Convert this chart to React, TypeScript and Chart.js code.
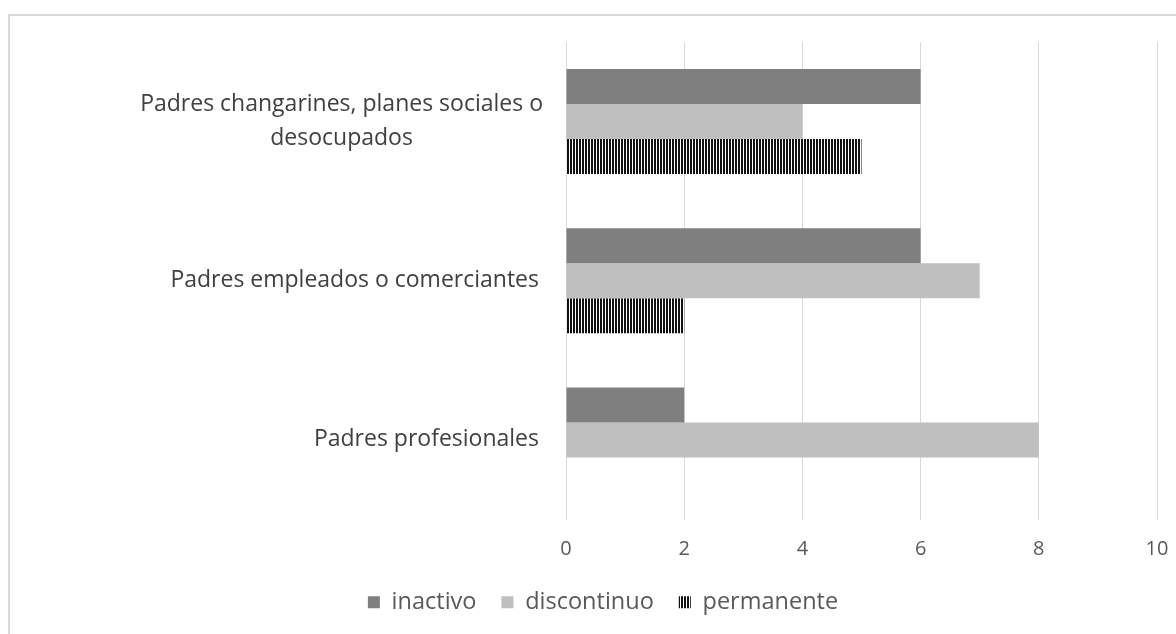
import React, { useEffect, useRef } from "react";
import { Chart, registerables } from "chart.js";
Chart.register(...registerables);

const categoryLines: string[][] = [
  ["Padres changarines, planes sociales o", "desocupados"],
  ["Padres empleados o comerciantes"],
  ["Padres profesionales"],
];
const categories = categoryLines.map((l) => l.join(" "));
const seriesNames = ["inactivo", "discontinuo", "permanente"];
const inactivo = [6, 6, 2];
const discontinuo = [4, 7, 8];
const permanente = [5, 2, 0];
const xTickValues = [0, 2, 4, 6, 8, 10];

const FONT = '"Open Sans", "DejaVu Sans", sans-serif';
const CAT_FS = 23;
const W = 1206;
const H = 660;

function makeStripes(): CanvasPattern | string {
  const c = document.createElement("canvas");
  c.width = 3;
  c.height = 3;
  const g = c.getContext("2d");
  if (!g) return "#000";
  g.fillStyle = "#ffffff";
  g.fillRect(0, 0, 3, 3);
  g.fillStyle = "#111111";
  g.fillRect(0, 0, 2, 3);
  const p = g.createPattern(c, "repeat");
  return p || "#000";
}

const framePlugin = {
  id: "frame",
  beforeDraw(chart: any) {
    const ctx = chart.ctx;
    ctx.save();
    ctx.fillStyle = "#ffffff";
    ctx.fillRect(0, 0, chart.width, chart.height);
    ctx.strokeStyle = "#d9d9d9";
    ctx.lineWidth = 2;
    ctx.strokeRect(9, 15, 1190, 2000);
    ctx.restore();
  },
};

const yLabelPlugin = {
  id: "yLabels",
  afterDraw(chart: any) {
    const ctx = chart.ctx;
    const y = chart.scales.y;
    ctx.save();
    ctx.font = `${CAT_FS}px ${FONT}`;
    ctx.fillStyle = "#404040";
    ctx.textAlign = "center";
    ctx.textBaseline = "middle";
    categoryLines.forEach((lines, i) => {
      const cy = y.getPixelForValue(i);
      const w = Math.max(...lines.map((l) => ctx.measureText(l).width));
      const right = chart.chartArea.left - (lines.length > 1 ? 23 : 27);
      const cx = right - w / 2;
      const lh = 34;
      lines.forEach((l, j) => ctx.fillText(l, cx, cy + (j - (lines.length - 1) / 2) * lh));
    });
    ctx.restore();
  },
};

export default function App() {
  const ref = useRef<HTMLCanvasElement | null>(null);
  useEffect(() => {
    if (!ref.current) return;
    const stripes = makeStripes();
    const chart = new Chart(ref.current, {
      type: "bar",
      data: {
        labels: categories,
        datasets: [
          { label: seriesNames[0], data: inactivo, backgroundColor: "#7f7f7f", borderWidth: 0 },
          { label: seriesNames[1], data: discontinuo, backgroundColor: "#bfbfbf", borderWidth: 0 },
          { label: seriesNames[2], data: permanente, backgroundColor: stripes as any, borderWidth: 0 },
        ],
      },
      options: {
        indexAxis: "y",
        animation: false,
        responsive: false,
        maintainAspectRatio: false,
        layout: { padding: { left: 0, right: 0, top: 42, bottom: 36 } },
        datasets: { bar: { categoryPercentage: 0.66, barPercentage: 1.0 } },
        scales: {
          y: {
            ticks: { display: false },
            grid: { display: false },
            border: { display: false },
            afterFit: (s: any) => {
              s.width = 566;
            },
          },
          yR: {
            type: "linear",
            position: "right",
            ticks: { display: false },
            grid: { display: false },
            border: { display: false },
            afterFit: (s: any) => {
              s.width = 49;
            },
          },
          x: {
            min: 0,
            max: 10,
            afterBuildTicks: (s: any) => {
              s.ticks = xTickValues.map((v) => ({ value: v }));
            },
            ticks: {
              color: "#595959",
              font: { family: FONT, size: 20 },
              padding: 18,
            },
            grid: { color: "#d9d9d9", lineWidth: 1, drawTicks: false },
            border: { display: false },
            afterFit: (s: any) => {
              s.height = 46;
            },
          },
        },
        plugins: {
          legend: {
            position: "bottom",
            labels: {
              boxWidth: 12,
              boxHeight: 12,
              padding: 25,
              color: "#595959",
              font: { family: FONT, size: 23.5 },
            },
          },
          tooltip: { enabled: false },
        },
      },
      plugins: [framePlugin, yLabelPlugin],
    });
    return () => chart.destroy();
  }, []);
  return (
    <div style={{ position: "fixed", left: 0, top: 0, width: W, height: H }}>
      <canvas ref={ref} width={W} height={H} style={{ width: W, height: H }} />
    </div>
  );
}
